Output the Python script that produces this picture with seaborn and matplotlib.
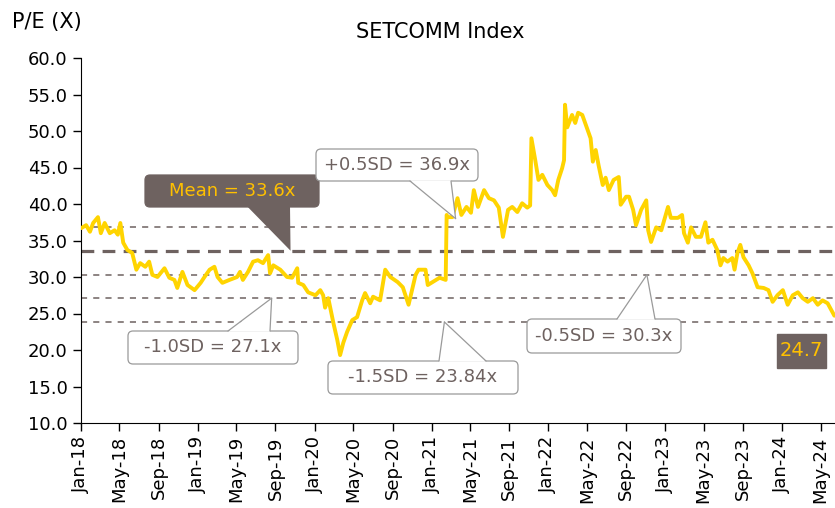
import pandas as pd
import matplotlib.pyplot as plt
import matplotlib.dates as mdates
import matplotlib.transforms as mtrans
from matplotlib.patches import FancyBboxPatch, Polygon
import seaborn as sns

# P/E series
dates = [
    "2018-01-02", "2018-01-17", "2018-01-29", "2018-02-08", "2018-02-23", "2018-03-04",
    "2018-03-16", "2018-04-01", "2018-04-16", "2018-04-26", "2018-05-04", "2018-05-13",
    "2018-05-26", "2018-06-10", "2018-06-23", "2018-07-05", "2018-07-21", "2018-08-02",
    "2018-08-12", "2018-08-28", "2018-09-19", "2018-10-04", "2018-10-20", "2018-10-29",
    "2018-11-14", "2018-11-30", "2018-12-22", "2019-01-10", "2019-01-22", "2019-02-07",
    "2019-02-22", "2019-03-04", "2019-03-19", "2019-04-10", "2019-05-04", "2019-05-13",
    "2019-05-22", "2019-06-07", "2019-06-23", "2019-07-08", "2019-07-24", "2019-08-09",
    "2019-08-15", "2019-08-25", "2019-09-16", "2019-10-07", "2019-10-23", "2019-11-08",
    "2019-11-11", "2019-11-27", "2019-12-12", "2020-01-04", "2020-01-19", "2020-01-28",
    "2020-02-03", "2020-02-13", "2020-02-29", "2020-03-12", "2020-03-21", "2020-03-31",
    "2020-04-12", "2020-04-28", "2020-05-13", "2020-05-29", "2020-06-07", "2020-06-23",
    "2020-07-02", "2020-07-24", "2020-08-09", "2020-08-25", "2020-09-17", "2020-10-03",
    "2020-10-21", "2020-11-12", "2020-11-21", "2020-12-13", "2020-12-20", "2021-01-04",
    "2021-01-26", "2021-02-14", "2021-02-17", "2021-02-20", "2021-03-07", "2021-03-23",
    "2021-04-04", "2021-04-20", "2021-05-04", "2021-05-13", "2021-05-26", "2021-06-14",
    "2021-06-29", "2021-07-15", "2021-07-30", "2021-08-12", "2021-08-28", "2021-09-10",
    "2021-09-26", "2021-10-11", "2021-10-27", "2021-11-05", "2021-11-09", "2021-11-21",
    "2021-12-01", "2021-12-13", "2021-12-29", "2022-01-13", "2022-01-22", "2022-02-01",
    "2022-02-13", "2022-02-19", "2022-02-22", "2022-03-01", "2022-03-16", "2022-03-26",
    "2022-04-04", "2022-04-17", "2022-05-04", "2022-05-13", "2022-05-20", "2022-05-29",
    "2022-06-07", "2022-06-20", "2022-06-29", "2022-07-09", "2022-07-24", "2022-08-09",
    "2022-08-15", "2022-09-01", "2022-09-10", "2022-09-23", "2022-10-02", "2022-10-18",
    "2022-11-03", "2022-11-09", "2022-11-18", "2022-12-04", "2022-12-20", "2023-01-10",
    "2023-01-19", "2023-02-10", "2023-02-23", "2023-03-01", "2023-03-13", "2023-03-23",
    "2023-04-07", "2023-04-23", "2023-05-07", "2023-05-16", "2023-05-29", "2023-06-13",
    "2023-06-23", "2023-07-02", "2023-07-15", "2023-07-30", "2023-08-06", "2023-08-15",
    "2023-08-24", "2023-09-03", "2023-09-19", "2023-10-01", "2023-10-17", "2023-11-05",
    "2023-11-20", "2023-12-03", "2023-12-18", "2024-01-04", "2024-01-19", "2024-02-04",
    "2024-02-20", "2024-03-06", "2024-03-22", "2024-04-07", "2024-04-22", "2024-05-07",
    "2024-05-23", "2024-06-07", "2024-06-13",
]
pe = [
    36.7, 37.1, 36.2, 37.4, 38.2, 36.0,
    37.4, 36.0, 36.4, 35.8, 37.4, 34.7,
    33.7, 33.3, 31.0, 31.9, 31.4, 32.1,
    30.3, 30.0, 31.2, 29.9, 29.6, 28.5,
    30.7, 28.9, 28.2, 29.2, 30.0, 31.0,
    31.4, 30.0, 29.2, 29.6, 30.0, 30.7,
    29.6, 30.7, 32.1, 32.3, 31.9, 33.0,
    30.5, 31.6, 31.0, 30.0, 29.9, 31.2,
    29.2, 28.9, 27.9, 27.5, 28.2, 27.5,
    25.8, 27.1, 23.7, 21.4, 19.3, 21.0,
    22.5, 24.1, 24.5, 26.8, 27.8, 26.4,
    27.3, 26.8, 31.0, 30.0, 29.3, 28.6,
    26.2, 30.3, 31.0, 31.0, 28.9, 29.3,
    29.9, 29.6, 38.5, 38.2, 38.2, 40.8,
    38.5, 39.6, 38.8, 41.9, 39.6, 41.9,
    40.8, 40.5, 39.5, 35.5, 39.2, 39.6,
    38.9, 40.1, 39.5, 39.8, 49.0, 46.0,
    43.3, 44.0, 42.6, 41.9, 41.2, 43.3,
    44.9, 46.0, 53.6, 50.5, 52.2, 51.1,
    52.5, 52.2, 50.1, 49.0, 45.8, 47.4,
    45.3, 42.6, 43.6, 41.9, 43.3, 43.7,
    39.9, 41.0, 41.0, 39.2, 37.1, 39.2,
    40.5, 36.4, 34.8, 36.8, 36.4, 39.6,
    38.1, 38.1, 38.5, 36.0, 34.7, 36.8,
    35.5, 35.5, 37.5, 34.7, 35.1, 33.7,
    31.6, 32.6, 32.1, 32.6, 31.0, 33.3,
    34.4, 32.7, 31.6, 30.5, 28.6, 28.5,
    28.2, 26.6, 27.5, 28.2, 26.2, 27.5,
    27.9, 27.1, 26.6, 27.1, 26.2, 26.8,
    26.4, 25.2, 24.7,
]

mean_pe = 33.6
sd_levels = [36.9, 30.3, 27.1, 23.84]
last_pe = 24.7

df = pd.DataFrame({"date": pd.to_datetime(dates), "pe": pe})

GREY = "#6e6260"
GOLD = "#FFD400"
TXT_GOLD = "#FFC000"
EDGE = "#9a9a9a"

sns.set_style("ticks")
plt.rcParams["font.family"] = ["DejaVu Sans"]

W, H = 835, 508
fig = plt.figure(figsize=(W / 100, H / 100), dpi=100)
ax = fig.add_axes([81 / W, 1 - 423 / H, 754 / W, 365 / H])

for lvl in sd_levels:
    ax.axhline(lvl, color=GREY, lw=1.1, ls=(0, (4, 4)), zorder=1)
ax.axhline(mean_pe, color=GREY, lw=2.3, ls=(0, (4, 2.6)), zorder=1)

sns.lineplot(data=df, x="date", y="pe", ax=ax, color=GOLD, lw=2.8, zorder=3)

ax.set_xlim(pd.Timestamp("2018-01-01"), pd.Timestamp("2024-06-15"))
ax.set_ylim(10, 60)
ax.set_yticks(range(10, 61, 5))
ax.yaxis.set_major_formatter(plt.FormatStrFormatter("%.1f"))
ax.xaxis.set_major_locator(mdates.MonthLocator(bymonth=[1, 5, 9]))
ax.xaxis.set_major_formatter(mdates.DateFormatter("%b-%y"))
ax.tick_params(axis="x", rotation=90, labelsize=13, length=6, width=1, colors="black")
ax.tick_params(axis="y", labelsize=13, length=6, width=1, colors="black")
ax.set_xlabel("")
ax.set_ylabel("")
sns.despine(ax=ax)
for s in ["left", "bottom"]:
    ax.spines[s].set_color("black")

fig.text(440 / W, 1 - 32 / H, "SETCOMM Index", ha="center", va="center", fontsize=15, color="black")
fig.text(12 / W, 1 - 22 / H, "P/E (X)", ha="left", va="center", fontsize=15, color="black")

# pixel coordinates (y downwards) for the callout layout
px = mtrans.Affine2D().scale(1 / W, -1 / H).translate(0, 1) + fig.transFigure


def to_px(date, val):
    disp = ax.transData.transform((mdates.date2num(pd.Timestamp(date)), val))
    return px.inverted().transform(disp)


def callout(text, box, base, tip, side, dark=False):
    x0, y0, x1, y1 = box
    fc = GREY if dark else "white"
    ec = GREY if dark else EDGE
    ax.add_patch(FancyBboxPatch((x0, y0), x1 - x0, y1 - y0,
                                boxstyle="round,pad=0,rounding_size=5",
                                fc=fc, ec=ec, lw=0.9, transform=px,
                                clip_on=False, zorder=5))
    yb = y1 - 0.8 if side == "bottom" else y0 + 0.8
    tx, ty = tip
    ax.add_patch(Polygon([(base[0], yb), (base[1], yb), (tx, ty)], closed=True,
                         fc=fc, ec="none", transform=px, clip_on=False, zorder=6))
    if not dark:
        ye = y1 if side == "bottom" else y0
        for bx in base:
            ax.plot([bx, tx], [ye, ty], color=ec, lw=0.9, transform=px,
                    clip_on=False, zorder=6)
    ax.text((x0 + x1) / 2, (y0 + y1) / 2, text, transform=px, ha="center", va="center",
            fontsize=13, color=TXT_GOLD if dark else GREY, zorder=7)


callout("Mean = 33.6x", (145, 175, 319, 207), (247, 290),
        to_px("2019-10-18", mean_pe), "bottom", dark=True)
callout("+0.5SD = 36.9x", (316, 149, 478, 181), (410, 451),
        to_px("2021-03-17", 38.0), "bottom")
callout("-1.0SD = 27.1x", (128, 331, 298, 364), (228, 270),
        to_px("2019-08-20", 27.1), "top")
callout("-1.5SD = 23.84x", (328, 361, 518, 394), (439, 486),
        to_px("2021-02-10", 23.84), "top")
callout("-0.5SD = 30.3x", (527, 319, 681, 353), (617, 655),
        to_px("2022-11-05", 30.3), "top")

ax.add_patch(FancyBboxPatch((777, 334), 49, 34, boxstyle="square,pad=0",
                            fc=GREY, ec=GREY, transform=px, clip_on=False, zorder=5))
ax.text(801.5, 351, f"{last_pe:.1f}", transform=px, ha="center", va="center",
        fontsize=14, color=TXT_GOLD, zorder=7)

fig.savefig("out.png", dpi=100)
